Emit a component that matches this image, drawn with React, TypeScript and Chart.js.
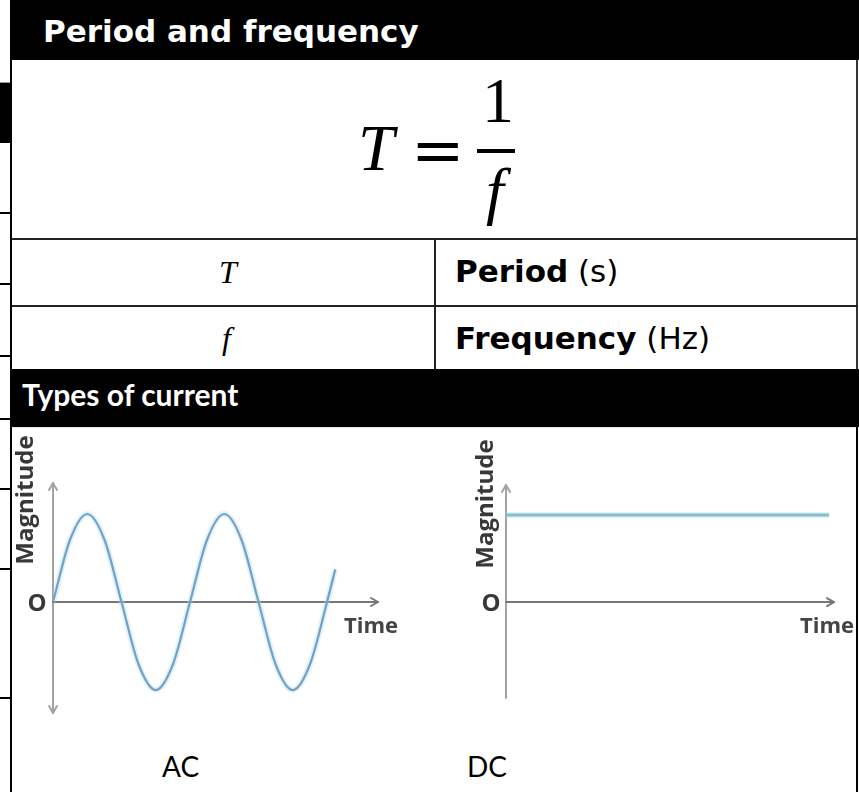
import React, { useEffect, useRef } from "react";
import { Chart, registerables } from "chart.js";

Chart.register(...registerables);

// ---- data ----
const acTime = [0, 0.125, 0.25, 0.375, 0.5, 0.625, 0.75, 0.875, 1, 1.125, 1.25, 1.375, 1.5, 1.625, 1.75, 1.875, 2, 2.06];
const acMagnitude = [0, 0.71, 1, 0.71, 0, -0.71, -1, -0.71, 0, 0.71, 1, 0.71, 0, -0.71, -1, -0.71, 0, 0.37];
const dcTime = [0, 0.985];
const dcMagnitude = [1, 1];
const axisTitleY = "Magnitude";
const axisTitleX = "Time";
const originLabel = "O";
const captions = ["AC", "DC"];
const tableSymbols = ["T", "f"];
const tableNames = ["Period", "Frequency"];
const tableUnits = ["(s)", "(Hz)"];
const headerTitle = "Period and frequency";
const sectionTitle = "Types of current";

function chevron(ctx: CanvasRenderingContext2D, x: number, y: number, dir: string) {
  const s = 7, w = 4;
  ctx.beginPath();
  if (dir === "up") { ctx.moveTo(x - w, y + s); ctx.lineTo(x, y); ctx.lineTo(x + w, y + s); }
  if (dir === "down") { ctx.moveTo(x - w, y - s); ctx.lineTo(x, y); ctx.lineTo(x + w, y - s); }
  if (dir === "right") { ctx.moveTo(x - s, y - w); ctx.lineTo(x, y); ctx.lineTo(x - s, y + w); }
  ctx.stroke();
}

const sketchAxes = {
  id: "sketchAxes",
  beforeDatasetsDraw(chart: any, _args: any, opts: any) {
    const ctx: CanvasRenderingContext2D = chart.ctx;
    const { right, top, bottom } = chart.chartArea;
    const x0 = chart.scales.x.getPixelForValue(0);
    const y0 = chart.scales.y.getPixelForValue(0);
    ctx.save();
    ctx.lineCap = "round";
    ctx.lineJoin = "round";
    ctx.lineWidth = 2;
    ctx.strokeStyle = "#a3a3a3";
    ctx.beginPath();
    ctx.moveTo(x0, top);
    ctx.lineTo(x0, bottom);
    ctx.stroke();
    chevron(ctx, x0, top, "up");
    if (opts.bottomArrow) chevron(ctx, x0, bottom, "down");
    ctx.strokeStyle = "#777";
    ctx.beginPath();
    ctx.moveTo(x0, y0);
    ctx.lineTo(right, y0);
    ctx.stroke();
    chevron(ctx, right, y0, "right");

    ctx.fillStyle = "#383838";
    ctx.font = "bold 24px 'Open Sans'";
    ctx.save();
    ctx.translate(x0 - opts.titleOffset, y0 + opts.titleDy);
    ctx.rotate(-Math.PI / 2);
    ctx.textAlign = "center";
    ctx.textBaseline = "alphabetic";
    ctx.fillText(axisTitleY, 0, 0);
    ctx.restore();

    ctx.font = "bold 24px 'Open Sans'";
    ctx.textAlign = "center";
    ctx.textBaseline = "middle";
    ctx.fillText(originLabel, x0 - opts.originOffset, y0 + 2);

    ctx.fillStyle = "#444";
    ctx.font = "bold 22px 'Open Sans'";
    ctx.textAlign = "right";
    ctx.textBaseline = "alphabetic";
    ctx.fillText(axisTitleX, right + 20, y0 + 31);
    ctx.restore();
  },
};

function makeConfig(xs: number[], ys: number[], o: any): any {
  const pts = xs.map((x, i) => ({ x, y: ys[i] }));
  return {
    type: "line",
    data: {
      datasets: [
        { data: pts, borderColor: o.halo, borderWidth: 6, pointRadius: 0, cubicInterpolationMode: "monotone", fill: false },
        { data: pts, borderColor: o.color, borderWidth: o.width, pointRadius: 0, cubicInterpolationMode: "monotone", fill: false },
      ],
    },
    options: {
      animation: false,
      responsive: false,
      events: [],
      layout: { padding: o.padding },
      plugins: {
        legend: { display: false },
        tooltip: { enabled: false },
        sketchAxes: o.axes,
      },
      scales: {
        x: { type: "linear", min: o.xMin, max: o.xMax, display: false },
        y: { type: "linear", min: o.yMin, max: o.yMax, display: false },
      },
    },
    plugins: [sketchAxes],
  };
}

function WaveChart(props: { cfg: any; left: number; top: number; width: number; height: number }) {
  const ref = useRef<HTMLCanvasElement | null>(null);
  useEffect(() => {
    if (!ref.current) return;
    const chart = new Chart(ref.current, props.cfg);
    return () => chart.destroy();
  }, []);
  return (
    <canvas
      ref={ref}
      width={props.width}
      height={props.height}
      style={{ position: "absolute", left: props.left, top: props.top, width: props.width, height: props.height }}
    />
  );
}

const acConfig = makeConfig(acTime, acMagnitude, {
  color: "#4f86aa",
  halo: "rgba(175,215,245,0.35)",
  width: 2.2,
  padding: { left: 41, top: 55, right: 52, bottom: 15 },
  xMin: 0, xMax: 2.372, yMin: -1.261, yMax: 1.352,
  axes: { bottomArrow: true, titleOffset: 20, titleDy: -102, originOffset: 16 },
});

const dcConfig = makeConfig(dcTime, dcMagnitude, {
  color: "#6ea6b4",
  halo: "rgba(180,225,235,0.4)",
  width: 3,
  padding: { left: 66, top: 57, right: 22, bottom: 30 },
  xMin: 0, xMax: 1, yMin: -1.103, yMax: 1.345,
  axes: { bottomArrow: false, titleOffset: 13, titleDy: -98, originOffset: 15 },
});

export default function App() {
  const sans = "'DejaVu Sans', Verdana, sans-serif";
  const serif = "'Liberation Serif', serif";
  const lato = "Lato, 'Open Sans', sans-serif";
  const stripLines = [212, 283, 355, 418, 488, 568, 697];
  return (
    <div style={{ position: "absolute", left: 0, top: 0, width: 859, height: 792, overflow: "hidden", background: "#fff" }}>
      <svg width={859} height={792} style={{ position: "absolute", left: 0, top: 0 }}>
        <rect x={0} y={0} width={859} height={792} fill="#fff" />
        {/* left strip from neighbouring table */}
        <rect x={0} y={82} width={10} height={1} fill="#999" />
        <rect x={0} y={83} width={10} height={60} fill="#000" />
        {stripLines.map((y) => (
          <rect key={y} x={0} y={y} width={10} height={2} fill="#000" />
        ))}
        <rect x={10} y={0} width={2} height={792} fill="#000" />
        {/* header */}
        <rect x={10} y={0} width={849} height={60} fill="#000" />
        <text x={43} y={42} fill="#fff" fontFamily={sans} fontWeight="bold" fontSize={31}>{headerTitle}</text>
        {/* formula box */}
        <rect x={856} y={60} width={2} height={309} fill="#333" />
        <text x={358} y={170} fontFamily={serif} fontStyle="italic" fontSize={65} fill="#000">T</text>
        <text x={411} y={172} fontFamily="'DejaVu Serif', serif" fontSize={64} fill="#000">=</text>
        <text x={482} y={122} fontFamily={serif} fontSize={64} fill="#000">1</text>
        <rect x={477} y={149} width={38} height={4} fill="#000" />
        <text x={486} y={212} fontFamily={serif} fontStyle="italic" fontSize={64} fill="#000">f</text>
        {/* table rows */}
        <rect x={12} y={238} width={846} height={2} fill="#222" />
        <rect x={12} y={305} width={846} height={2} fill="#222" />
        <rect x={434} y={238} width={2} height={131} fill="#222" />
        <text x={219} y={283} fontFamily={serif} fontStyle="italic" fontSize={32} fill="#000">{tableSymbols[0]}</text>
        <text x={222} y={349} fontFamily={serif} fontStyle="italic" fontSize={32} fill="#000">{tableSymbols[1]}</text>
        <text x={455} y={282} fontFamily={sans} fontSize={31} fill="#000">
          <tspan fontWeight="bold">{tableNames[0]}</tspan>
          <tspan> {tableUnits[0]}</tspan>
        </text>
        <text x={455} y={349} fontFamily={sans} fontSize={31} fill="#000">
          <tspan fontWeight="bold">{tableNames[1]}</tspan>
          <tspan> {tableUnits[1]}</tspan>
        </text>
        {/* section bar */}
        <rect x={10} y={369} width={849} height={58} fill="#000" />
        <text x={22} y={406} fill="#fff" fontFamily={lato} fontWeight="bold" fontSize={30}>{sectionTitle}</text>
        <rect x={12} y={427} width={844} height={1} fill="#e6e6e6" />
        <rect x={856} y={427} width={2} height={365} fill="#000" />
        {/* captions */}
        <text x={162} y={777} fontFamily={lato} fontSize={28} fill="#000">{captions[0]}</text>
        <text x={467} y={777} fontFamily={lato} fontSize={28} fill="#000">{captions[1]}</text>
      </svg>
      <WaveChart cfg={acConfig} left={12} top={428} width={418} height={300} />
      <WaveChart cfg={dcConfig} left={440} top={428} width={416} height={300} />
    </div>
  );
}
